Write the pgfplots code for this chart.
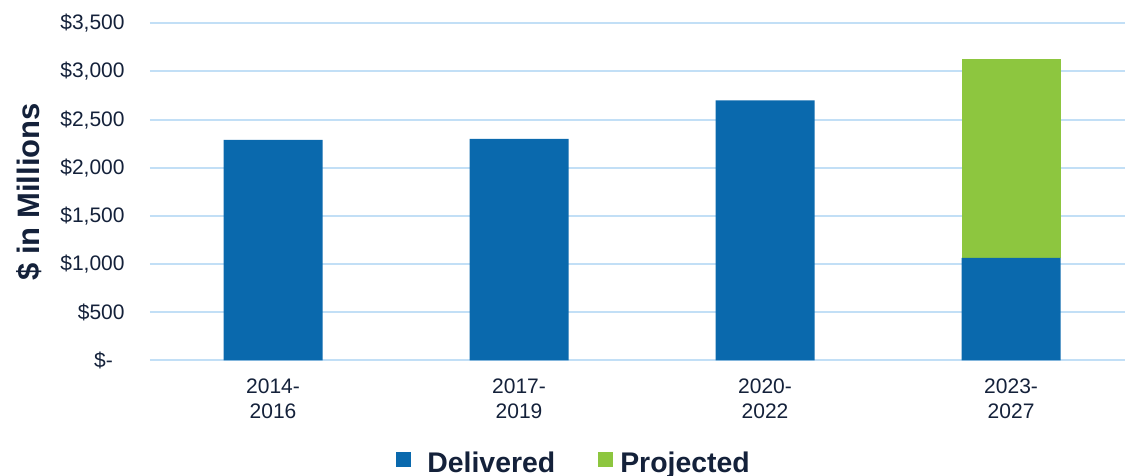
\documentclass[border=0pt]{standalone}
\usepackage{pgfplots}
\pgfplotsset{compat=1.18}
\usepackage{fontspec}
\setmainfont{Liberation Sans}
\definecolor{barblue}{HTML}{0A69AD}
\definecolor{bargreen}{HTML}{8DC63F}
\definecolor{gridblue}{HTML}{C2DFF6}
\definecolor{txt}{HTML}{14213A}
\begin{document}
\begin{tikzpicture}
\path[use as bounding box] (0,0) rectangle (562.5pt,238pt);
\begin{axis}[
  at={(75pt,57.75pt)}, anchor=south west,
  scale only axis, width=487.5pt, height=168.6pt,
  xmin=-0.5, xmax=3.463, ymin=0, ymax=3500,
  ybar stacked, bar width=49.5pt,
  axis line style={draw=none},
  major tick length=0pt,
  ytick={0,500,1000,1500,2000,2500,3000,3500},
  yticklabels={{\$-\phantom{0}},{\$500},{\$1,000},{\$1,500},{\$2,000},{\$2,500},{\$3,000},{\$3,500}},
  ymajorgrids, grid style={gridblue, line width=1pt},
  xtick={0,1,2,3},
  xticklabels={{2014-\\2016},{2017-\\2019},{2020-\\2022},{2023-\\2027}},
  tick label style={font=\fontsize{10.5}{12.5}\selectfont, text=txt},
  yticklabel style={anchor=east, inner sep=0pt, xshift=-12.5pt},
  xticklabel style={align=center, anchor=north, inner sep=0pt, yshift=-8.75pt},
  ylabel={\$ in Millions},
  ylabel style={font=\bfseries\fontsize{15.5}{18}\selectfont, text=txt, at={(axis description cs:-0.1241,0.5)}, anchor=center},
  legend columns=2,
  legend image code/.code={\fill[#1] (0pt,-1.5pt) rectangle (7.5pt,6pt);},
  legend style={draw=none, fill=none, inner sep=0pt, at={(axis description cs:0.2523,-0.3055)}, anchor=west,
    nodes={inner sep=0pt, text=txt, font=\bfseries\fontsize{14.2}{16}\selectfont},
    /tikz/column 1/.style={column sep=8pt},
    /tikz/column 2/.style={column sep=21.5pt},
    /tikz/column 3/.style={column sep=3.5pt}},
]
\addplot[fill=barblue, draw=none] coordinates {(0,2290) (1,2300) (2,2700) (3,1065)};
\addplot[fill=bargreen, draw=none] coordinates {(0,0) (1,0) (2,0) (3,2065)};
\legend{Delivered, Projected}
\end{axis}
\end{tikzpicture}
\end{document}
